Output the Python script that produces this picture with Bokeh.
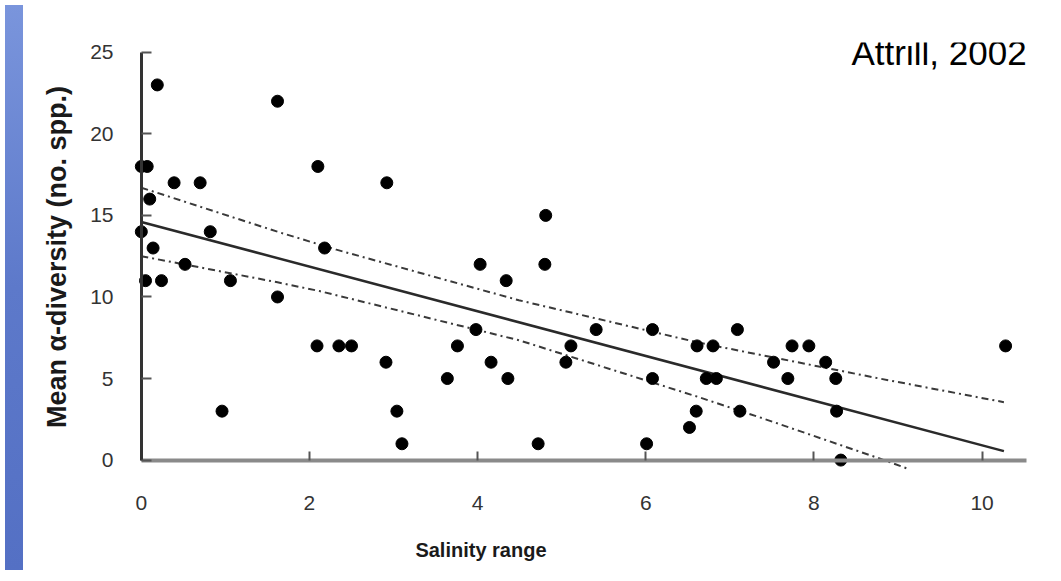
from bokeh.plotting import figure
from bokeh.models import Range1d, FixedTicker, Label, ColumnDataSource, LinearAxis, Div
from bokeh.layouts import row
from bokeh.embed import file_html
from bokeh.resources import INLINE

# ---- data ----
salinity = [0.0, 0.07, 0.19, 1.62, 0.39, 0.70, 2.10, 2.92, 0.10, 0.0,
            0.82, 2.18, 0.14, 0.52, 0.05, 0.24, 1.06, 1.62, 2.09, 2.35,
            2.50, 2.91, 3.64, 0.96, 3.04, 3.10, 4.81, 4.03, 4.80, 4.34,
            3.98, 5.41, 6.08, 7.09, 3.76, 5.11, 6.61, 6.80, 7.52, 4.16,
            5.05, 4.36, 6.08, 6.72, 6.84, 7.12, 6.60, 6.52, 4.72, 6.01,
            7.74, 7.94, 8.14, 7.69, 8.26, 10.28, 8.27, 8.32]
diversity = [18, 18, 23, 22, 17, 17, 18, 17, 16, 14,
             14, 13, 13, 12, 11, 11, 11, 10, 7, 7,
             7, 6, 5, 3, 3, 1, 15, 12, 12, 11,
             8, 8, 8, 8, 7, 7, 7, 7, 6, 6,
             6, 5, 5, 5, 5, 3, 3, 2, 1, 1,
             7, 7, 6, 5, 5, 7, 3, 0]

fit_x = [0.0, 10.26]
fit_y = [14.6, 0.55]

upper_x = [0.0, 1.62, 2.32, 4.49, 6.63, 8.78, 10.26]
upper_y = [16.7, 14.0, 12.9, 9.8, 7.2, 5.0, 3.55]

lower_x = [0.0, 1.62, 2.12, 4.49, 6.63, 7.35, 8.78, 9.1]
lower_y = [12.5, 10.9, 10.36, 7.35, 3.86, 2.63, 0.1, -0.5]

x_ticks = [0, 2, 4, 6, 8, 10]
y_ticks = [0, 5, 10, 15, 20, 25]

x_title = "Salinity range"
x_title_at = 4.04          # the title sits under the "4" tick in the reference
y_title = "Mean \u03b1-diversity (no. spp.)"
source_note = "Attrill, 2002"

# ---- figure ----
FONT = "Liberation Sans"
p = figure(width=1035, height=565, output_backend="svg", toolbar_location=None,
           x_range=Range1d(-0.2, 10.6), y_range=Range1d(-0.7, 25.6),
           min_border_left=96, min_border_right=31,
           min_border_top=42, min_border_bottom=94)
p.grid.visible = False
p.outline_line_color = None
p.background_fill_color = "white"
p.border_fill_color = "white"

pts = ColumnDataSource(dict(x=salinity, y=diversity))

p.line(upper_x, upper_y, line_color="#3a3a3a", line_width=2, line_dash="7 4 2 4")
p.line(lower_x, lower_y, line_color="#3a3a3a", line_width=2, line_dash="7 4 2 4")
p.line(fit_x, fit_y, line_color="#2a2a2a", line_width=2.5)
p.scatter("x", "y", source=pts, marker="circle", size=12,
          fill_color="black", line_color="black")

# outer axes: tick labels (and y title)
xa = p.xaxis[0]
xa.ticker = FixedTicker(ticks=x_ticks)
xa.axis_line_color = None
xa.major_tick_line_color = None
xa.minor_tick_line_color = None
xa.major_label_standoff = 18
xa.major_label_text_font = FONT
xa.major_label_text_font_size = "21px"
xa.major_label_text_color = "#333333"

ya = p.yaxis[0]
ya.ticker = FixedTicker(ticks=y_ticks)
ya.axis_line_color = None
ya.major_tick_line_color = None
ya.minor_tick_line_color = None
ya.major_label_standoff = 5
ya.major_label_text_font = FONT
ya.major_label_text_font_size = "21px"
ya.major_label_text_color = "#333333"
ya.axis_label = y_title
ya.axis_label_text_font = FONT
ya.axis_label_text_font_style = "bold"
ya.axis_label_text_font_size = "27px"
ya.axis_label_text_color = "#1a1a1a"
ya.axis_label_standoff = 15

# inner axes: lines and inward ticks at zero
x0 = LinearAxis(fixed_location=0, bounds=(0, 10.53), ticker=FixedTicker(ticks=x_ticks),
                major_tick_in=9, major_tick_out=0, minor_tick_line_color=None,
                major_tick_line_color="#555555", major_tick_line_width=2,
                axis_line_color="#8a8a8a", axis_line_width=4, major_label_standoff=0,
                major_label_text_color=None, major_label_text_font_size="1px")
p.add_layout(x0, "below")

y0 = LinearAxis(fixed_location=0, bounds=(0, 25), ticker=FixedTicker(ticks=y_ticks),
                major_tick_in=10, major_tick_out=0, minor_tick_line_color=None,
                major_tick_line_color="#555555", major_tick_line_width=2,
                axis_line_color="#333333", axis_line_width=3, major_label_standoff=0,
                major_label_text_color=None, major_label_text_font_size="1px")
p.add_layout(y0, "left")

# x title: a label-only axis with a single tick under "4"
xt = LinearAxis(ticker=FixedTicker(ticks=[x_title_at]),
                major_label_overrides={x_title_at: x_title},
                axis_line_color=None, major_tick_line_color=None, minor_tick_line_color=None,
                major_tick_out=0, major_tick_in=0, major_label_standoff=26,
                major_label_text_font=FONT, major_label_text_font_style="bold",
                major_label_text_font_size="20px", major_label_text_color="#1a1a1a")
p.add_layout(xt, "below")

p.add_layout(Label(x=10.53, y=25.0, text=source_note, text_align="right",
                   text_baseline="alphabetic", text_font=FONT,
                   text_font_size="35px", text_color="black"))

left_strip = Div(text="", width=18, height=565,
                 styles={"background": "linear-gradient(180deg, #7a95dc 0%, #5d79ca 50%, #5470c4 100%)"})

layout = row(left_strip, p, spacing=0)

open("out.html", "w").write(file_html(layout, INLINE))
